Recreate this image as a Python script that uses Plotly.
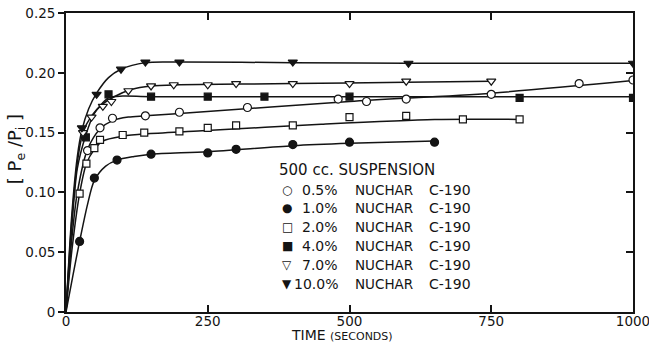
import plotly.graph_objects as go

# ---- measured points: time (s) vs Pe/Pi -------------------------------------
t_05 = [38, 60, 82, 140, 200, 320, 480, 530, 600, 750, 905, 1000]
p_05 = [0.135, 0.154, 0.162, 0.164, 0.167, 0.171, 0.178, 0.176, 0.178, 0.182, 0.191, 0.194]

t_10 = [24, 50, 90, 150, 250, 300, 400, 500, 650]
p_10 = [0.059, 0.112, 0.127, 0.132, 0.133, 0.136, 0.140, 0.142, 0.142]

t_20 = [24, 36, 50, 60, 100, 138, 200, 250, 300, 400, 500, 600, 700, 800]
p_20 = [0.099, 0.124, 0.137, 0.144, 0.148, 0.150, 0.151, 0.154, 0.156, 0.156, 0.163, 0.164, 0.161, 0.161]

t_40 = [35, 75, 150, 250, 350, 500, 800, 1000]
p_40 = [0.146, 0.182, 0.180, 0.180, 0.180, 0.180, 0.179, 0.179]

t_70 = [30, 45, 65, 80, 110, 150, 190, 250, 300, 400, 500, 600, 750]
p_70 = [0.150, 0.163, 0.172, 0.176, 0.185, 0.189, 0.190, 0.190, 0.191, 0.191, 0.191, 0.193, 0.193]

t_100 = [28, 54, 97, 140, 200, 400, 604, 1000]
p_100 = [0.154, 0.182, 0.203, 0.209, 0.209, 0.209, 0.208, 0.208]

# ---- hand-faired curves through each set ------------------------------------
ct_05 = [0, 10, 20, 38, 60, 82, 110, 140, 200, 500, 750, 1000]
cp_05 = [0, 0.060, 0.100, 0.136, 0.153, 0.160, 0.163, 0.164, 0.166, 0.176, 0.183, 0.1935]

ct_10 = [0, 12, 24, 38, 50, 70, 90, 120, 150, 250, 400, 500, 650]
cp_10 = [0, 0.030, 0.059, 0.090, 0.110, 0.122, 0.127, 0.130, 0.132, 0.134, 0.139, 0.141, 0.143]

ct_20 = [0, 10, 24, 36, 50, 65, 100, 140, 240, 450, 650, 800]
cp_20 = [0, 0.050, 0.099, 0.124, 0.136, 0.143, 0.147, 0.149, 0.1515, 0.157, 0.161, 0.161]

ct_40 = [0, 10, 20, 35, 50, 75, 100, 150, 1000]
cp_40 = [0, 0.070, 0.120, 0.148, 0.166, 0.179, 0.1805, 0.180, 0.180]

ct_70 = [0, 10, 20, 30, 45, 65, 85, 115, 150, 200, 400, 600, 750]
cp_70 = [0, 0.075, 0.125, 0.150, 0.164, 0.174, 0.180, 0.186, 0.189, 0.190, 0.191, 0.192, 0.193]

ct_100 = [0, 10, 20, 28, 40, 54, 75, 97, 140, 200, 400, 600, 1000]
cp_100 = [0, 0.080, 0.130, 0.152, 0.170, 0.183, 0.196, 0.203, 0.2085, 0.209, 0.2085, 0.208, 0.208]

x_ticks = [0, 250, 500, 750, 1000]
x_tick_text = ["0", "250", "500", "750", "1000"]
y_ticks = [0, 0.05, 0.10, 0.15, 0.20, 0.25]
y_tick_text = ["0", "0.05", "0.10", "0.15", "0.20", "0.25"]

legend_symbols = ["○", "●", "□", "■", "▽", "▼"]
legend_pct = ["0.5%", "1.0%", "2.0%", "4.0%", "7.0%", "10.0%"]

INK = "#141414"
FONT = "DejaVu Sans"

series = [
    (t_05, p_05, ct_05, cp_05, "circle", "white"),
    (t_10, p_10, ct_10, cp_10, "circle", INK),
    (t_20, p_20, ct_20, cp_20, "square", "white"),
    (t_40, p_40, ct_40, cp_40, "square", INK),
    (t_70, p_70, ct_70, cp_70, "triangle-down", "white"),
    (t_100, p_100, ct_100, cp_100, "triangle-down", INK),
]

fig = go.Figure()

# curves first, so the open markers sit on top with white interiors
for _, _, ct, cp, _, _ in series:
    fig.add_trace(go.Scatter(
        x=ct, y=cp, mode="lines",
        line=dict(color=INK, width=1.5, shape="spline", smoothing=0.8),
        hoverinfo="skip", showlegend=False,
    ))

for t, p, _, _, sym, fill in series:
    size = 8 if sym != "square" else 7
    fig.add_trace(go.Scatter(
        x=t, y=p, mode="markers",
        marker=dict(symbol=sym, size=size, color=fill,
                    line=dict(color=INK, width=1.2)),
        showlegend=False,
    ))

# dummy trace to carry the right-hand y axis (inward ticks)
fig.add_trace(go.Scatter(x=[None], y=[None], yaxis="y2", showlegend=False))

axis_common = dict(showgrid=False, zeroline=False, showline=True,
                   linecolor=INK, linewidth=1.8, tickcolor=INK,
                   tickwidth=1.5, automargin=False,
                   tickfont=dict(family=FONT, size=13.5, color=INK))

fig.update_layout(
    width=649, height=342,
    margin=dict(l=66, r=16, t=13, b=30),
    paper_bgcolor="white", plot_bgcolor="white",
    xaxis=dict(range=[0, 1000], tickvals=x_ticks, ticktext=x_tick_text,
               ticks="inside", ticklen=7, mirror="ticks",
               ticklabelstandoff=-4, ticklabeloverflow="allow",
               **axis_common),
    yaxis=dict(range=[0, 0.25], tickvals=y_ticks, ticktext=y_tick_text,
               ticks="outside", ticklen=6, **axis_common),
    yaxis2=dict(range=[0, 0.25], overlaying="y", side="right",
                tickvals=y_ticks, ticks="inside", ticklen=7,
                showticklabels=False, **axis_common),
)

annotations = [
    dict(text="TIME <span style='font-size:11px'>(SECONDS)</span>",
         xref="paper", yref="paper", x=0.486, y=-0.078,
         xanchor="center", yanchor="middle", showarrow=False,
         font=dict(family=FONT, size=14, color=INK)),
    dict(text="[ P<sub>e</sub> /P<sub>i</sub> ]",
         xref="paper", yref="paper", x=-0.088, y=0.545,
         xanchor="center", yanchor="middle", showarrow=False, textangle=-90,
         font=dict(family=FONT, size=18, color=INK)),
    dict(text="500 cc. SUSPENSION", xref="x", yref="y", x=372, y=0.1186,
         xanchor="left", yanchor="middle", showarrow=False,
         font=dict(family=FONT, size=15, color=INK)),
]

row_y = [0.1024, 0.0870, 0.0711, 0.0550, 0.0391, 0.0238]
for sym, pct, ry in zip(legend_symbols, legend_pct, row_y):
    annotations += [
        dict(text=sym, xref="x", yref="y", x=390, y=ry, xanchor="center",
             yanchor="middle", showarrow=False,
             font=dict(family=FONT, size=12, color=INK)),
        dict(text=pct, xref="x", yref="y", x=484, y=ry, xanchor="right",
             yanchor="middle", showarrow=False,
             font=dict(family=FONT, size=14, color=INK)),
        dict(text="NUCHAR", xref="x", yref="y", x=507, y=ry, xanchor="left",
             yanchor="middle", showarrow=False,
             font=dict(family=FONT, size=13.5, color=INK)),
        dict(text="C-190", xref="x", yref="y", x=637, y=ry, xanchor="left",
             yanchor="middle", showarrow=False,
             font=dict(family=FONT, size=14, color=INK)),
    ]

fig.update_layout(annotations=annotations)

fig.write_html("out.html")
